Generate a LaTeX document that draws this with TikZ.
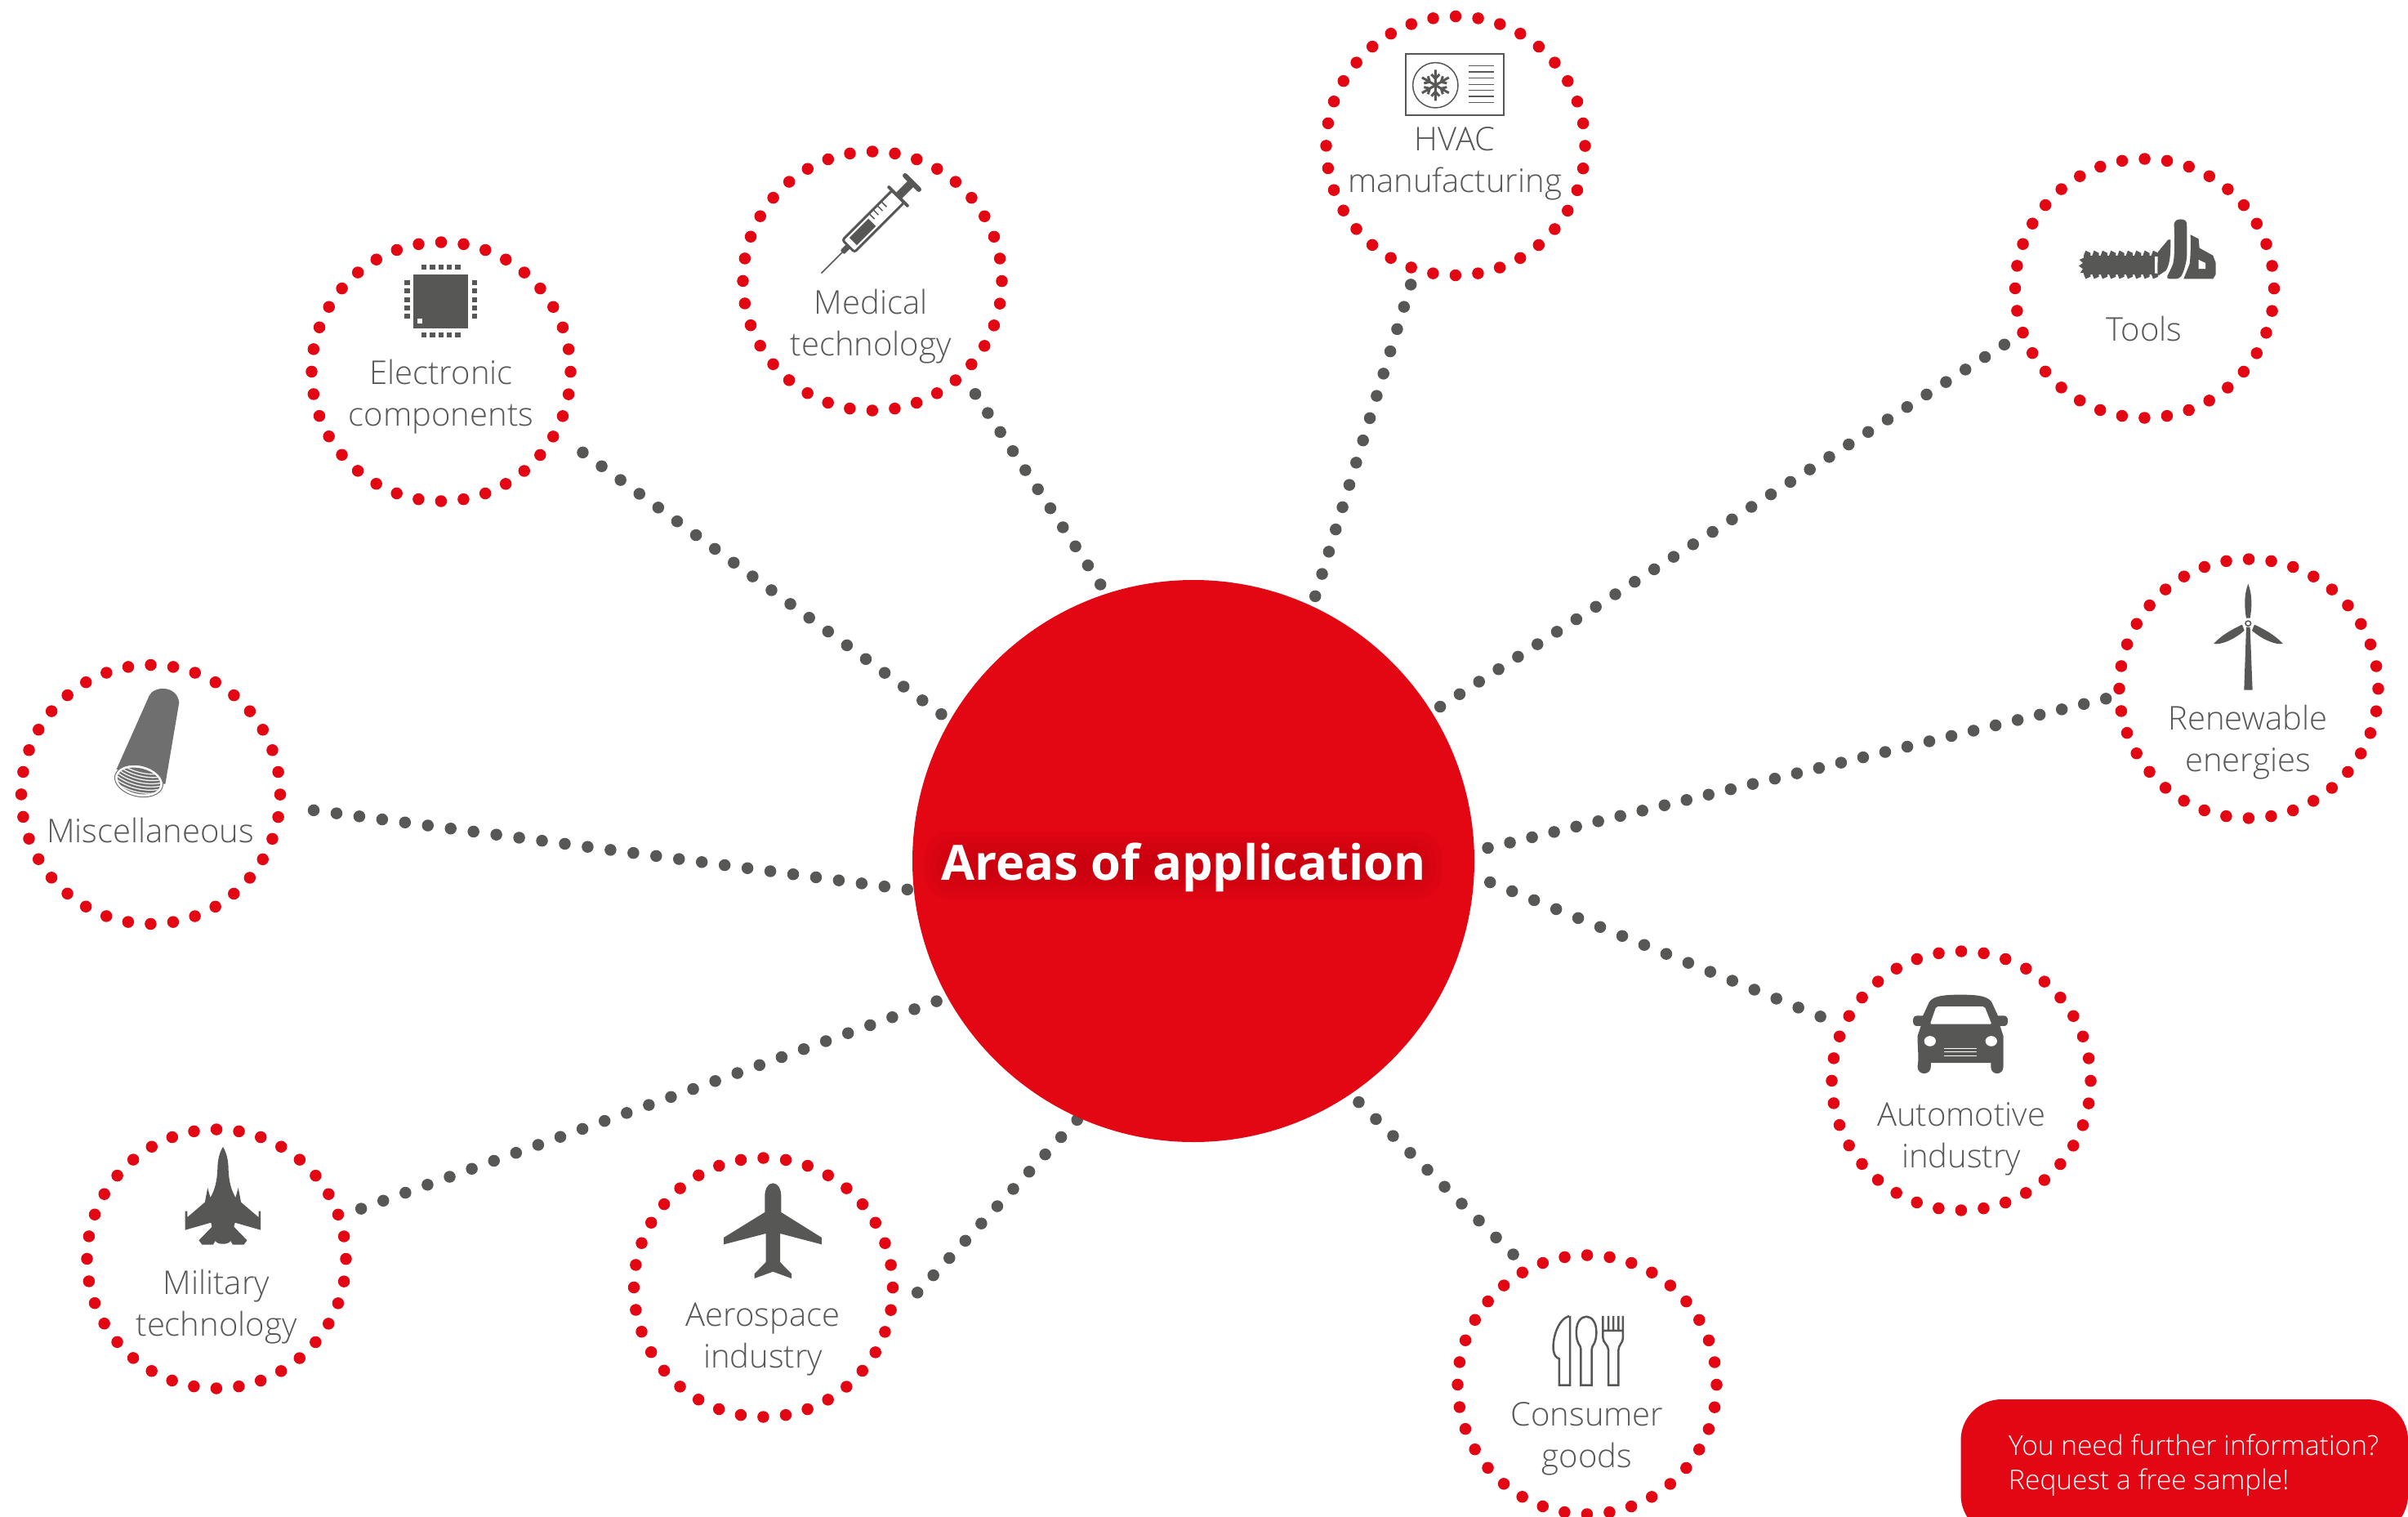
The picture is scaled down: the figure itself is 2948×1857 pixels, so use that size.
\documentclass[tikz,border=0pt]{standalone}
\usepackage{fontspec}
\setmainfont[UprightFont=* Light,BoldFont=* Bold]{Open Sans}
\usetikzlibrary{backgrounds}
\definecolor{brandred}{HTML}{E30613}
\definecolor{shadowred}{HTML}{A00010}
\definecolor{dotgrey}{HTML}{575756}
\definecolor{tubegrey}{HTML}{706F6F}
\tikzset{
  x=1pt,y=-1pt,
  ring/.style={circle,draw=brandred,line width=14.5pt,dash pattern=on 0pt off 27.663pt,line cap=round,minimum size=317pt,inner sep=0pt,outer sep=0pt},
  hubnode/.style={circle,fill=brandred,minimum size=688pt,inner sep=0pt,outer sep=0pt},
  conn/.style={draw=dotgrey,line width=14.5pt,dash pattern=on 0pt off #1pt,line cap=round},
  lbl/.style={text=dotgrey,font=\fontsize{40}{51}\selectfont,align=center,inner sep=0pt},
  ic/.style={fill=dotgrey,draw=none},
  icl/.style={draw=dotgrey,fill=none,line width=2.5pt},
  zA/.style={shift={(1600,0)},x=0.3333pt,y=-0.3333pt},
  zB/.style={shift={(350,160)},x=0.574pt,y=-0.3333pt},
  zC/.style={shift={(2420,170)},x=0.3333pt,y=-0.51pt},
  zD/.style={shift={(0,800)},x=0.3333pt,y=-0.3333pt},
  zE/.style={shift={(80,1360)},x=0.67pt,y=-0.3333pt},
  zF/.style={shift={(1760,1150)},x=0.51pt,y=-0.451pt},
}
\begin{document}
\begin{tikzpicture}
\useasboundingbox (0,0) rectangle (2948,1857);
\node[hubnode] (hub) at (1461,1054) {};
\foreach \g in {0,7,14,21,28}
  \fill[shadowred,opacity=0.07,rounded corners=30pt] (1132+\g,1018+\g) rectangle (1765-\g,1100-\g);
\node[text=white,font=\bfseries\fontsize{59.6}{66}\selectfont,inner sep=0pt] (hubtext) at (1449,1062) {Areas of application};
\node[ring] (elec) at (540,455) {};
\node[ring] (med) at (1068,344) {};
\node[ring] (hvac) at (1782,178.5) {};
\node[ring] (tools) at (2625.5,353) {};
\node[ring] (renew) at (2753,843) {};
\node[ring] (misc) at (184.5,972.5) {};
\node[ring] (auto) at (2401,1323) {};
\node[ring] (cons) at (1943,1695) {};
\node[ring] (aero) at (934.5,1576) {};
\node[ring] (mil) at (265,1541) {};
\begin{pgfonlayer}{background}
\draw[conn=28.6,shorten <=41.5pt] (elec.-28.4) -- (hub.150.4);
\draw[conn=27.9,shorten <=29pt] (med.-46.5) -- (hub.108.1);
\draw[conn=28.5,shorten <=20pt] (hvac.-108.8) -- (hub.65.1);
\draw[conn=28.3,shorten <=27pt] (tools.200.6) -- (hub.32.6);
\draw[conn=27.8,shorten <=17pt] (renew.183.1) -- (hub.2.9);
\draw[conn=29.1,shorten <=31pt] (auto.155.4) -- (hub.-3.9);
\draw[conn=29.5,shorten <=26pt] (cons.117.9) -- (hub.-56.9);
\draw[conn=28.8,shorten <=54.6pt] (aero.-17.6) -- (hub.246.6);
\draw[conn=28.8,shorten <=29pt] (mil.19.6) -- (hub.209.3);
\draw[conn=28.2,shorten <=42pt] (misc.-5) -- (hub.186.5);
\end{pgfonlayer}
% labels
\node[lbl] (t1) at (540,486) {Electronic\\components};
\node[lbl] (t2) at (1066,400) {Medical\\technology};
\node[lbl] (t3) at (1781,200) {HVAC\\manufacturing};
\node[lbl] (t4) at (2625,402) {Tools};
\node[lbl] (t5) at (2752,909) {Renewable\\energies};
\node[lbl] (t6) at (184,1016) {Miscellaneous};
\node[lbl] (t7) at (2401,1394) {Automotive\\industry};
\node[lbl] (t8) at (1943,1761) {Consumer\\goods};
\node[lbl] (t9) at (934,1639) {Aerospace\\industry};
\node[lbl] (t10) at (265,1600) {Military\\technology};
% call-out
\fill[brandred,rounded corners=50pt] (2948,1713) -- (2400.5,1713) -- (2400.5,1880) -- (2948,1880) -- cycle;
\node[text=white,font=\fontsize{33.5}{42}\selectfont,align=left,inner sep=0pt,anchor=north west] (cta) at (2459,1756) {You need further information?\\Request a free sample!};
% HVAC icon
\begin{scope}[zA]
\draw[icl,line width=1.8pt] (363,199) rectangle (723,423);
\draw[icl,line width=1.5pt] (472,313) circle (83);
\foreach \y in {241,264,287,310,332,354,377} \draw[icl,line width=1.5pt] (593,\y) -- (686,\y);
\foreach \a in {0,60,...,300}{
  \begin{scope}[shift={(472,313)},rotate=\a+30]
  \draw[icl,line width=3pt] (0,0) -- (57,0) (24,0) -- (40,-15) (24,0) -- (40,15);
  \end{scope}}
\end{scope}
% chip icon
\begin{scope}[zB]
\fill[ic] (272,527) rectangle (389,727);
\fill[white] (280,690) rectangle (291,708);
\foreach \x in {289,307,325,343,361}{\fill[ic] (\x,492) rectangle (\x+11,510);\fill[ic] (\x,741) rectangle (\x+11,759);}
\foreach \y in {549,580,611,642,672}{\fill[ic] (253,\y) rectangle (264,\y+18);\fill[ic] (397,\y) rectangle (408,\y+18);}
\end{scope}
% syringe icon
\begin{scope}[shift={(1005.5,334.5)},rotate=45]
\draw[dotgrey,line width=1.5pt] (0,0) -- (36,0);
\fill[ic,rounded corners=2pt] (36,-3.5) rectangle (47,3.5);
\draw[icl,line width=3pt,rounded corners=3pt] (47,-10.5) rectangle (133,10.5);
\fill[ic] (55,-6.5) rectangle (88,6.5);
\foreach \x in {93,100,107,114} \draw[dotgrey,line width=1.5pt] (\x,-9) -- (\x,-1);
\draw[dotgrey,line width=4pt,line cap=round] (133,-16) -- (133,16);
\fill[ic] (133,-5) rectangle (156,5);
\draw[dotgrey,line width=6pt,line cap=round] (157,-12) -- (157,12);
\end{scope}
% chainsaw icon
\begin{scope}[zC]
\fill[ic] (392,280) rectangle (655,325);
\foreach \t in {392,423,...,640}{
  \fill[ic] (\t,282) -- (\t+8,268) -- (\t+26,274) -- (\t+26,282) -- cycle;
  \fill[ic] (\t,323) -- (\t+8,336) -- (\t+26,331) -- (\t+26,323) -- cycle;}
\fill[ic] (392,272) -- (395,285) -- (377,290) -- (390,298) -- (375,305) -- (390,312) -- (380,322) -- (395,322) -- (400,332) -- (410,320) -- cycle;
\fill[ic] (665,272) -- (703,242) -- (712,242) .. controls (712,280) and (710,300) .. (695,316) -- (668,328) -- (664,320) -- cycle;
\fill[ic,rounded corners=4pt] (725,210) .. controls (728,190) and (770,190) .. (772,210) -- (772,270) .. controls (772,295) and (760,320) .. (745,336) -- (695,336) -- (722,300) .. controls (727,270) and (727,240) .. (725,210) -- cycle;
\fill[ic] (785,230) -- (815,240) -- (818,262) -- (868,280) -- (878,298) -- (878,325) -- (868,336) -- (760,336) -- (782,300) .. controls (786,280) and (786,250) .. (785,230) -- cycle;
\fill[white] (815,290) -- (840,298) -- (840,312) -- (815,312) -- cycle;
\end{scope}
% wind turbine icon
\begin{scope}[zC]
\fill[ic] (997,1068) .. controls (980,1095) and (984,1130) .. (990,1150) -- (1004,1150) .. controls (1010,1130) and (1014,1095) .. (997,1068) -- cycle;
\fill[ic] (870,1212) .. controls (900,1190) and (945,1175) .. (975,1166) -- (983,1180) .. controls (950,1200) and (900,1215) .. (870,1212) -- cycle;
\fill[ic] (1125,1212) .. controls (1095,1190) and (1050,1175) .. (1020,1166) -- (1011,1180) .. controls (1045,1200) and (1095,1215) .. (1125,1212) -- cycle;
\fill[ic] (990,1172) -- (1004,1172) -- (1013,1323) -- (982,1323) -- cycle;
\draw[dotgrey,line width=1.5pt,fill=white] (997,1163) ellipse (10 and 6);
\end{scope}
% tube icon
\begin{scope}[zD]
\fill[tubegrey] (428,425) -- (548,155) .. controls (565,118) and (650,115) .. (658,180) -- (607,480) -- cycle;
\begin{scope}[shift={(510,468)},rotate=-13]
\draw[tubegrey,fill=white,line width=1pt] (0,0) ellipse (90 and 57);
\begin{scope}
\clip (0,0) ellipse (80 and 47);
\fill[tubegrey] (-90,-60) rectangle (90,60);
\foreach \d in {-30,-18,...,54} \draw[white,line width=1.2pt] (-90,\d-22) .. controls (-40,\d+6) and (40,\d+6) .. (90,\d-22);
\end{scope}
\end{scope}
\end{scope}
% jet icon
\begin{scope}[zE]
\fill[ic] (288,132) .. controls (294,150) and (298,180) .. (298,215) .. controls (299,260) and (303,290) .. (311,318) -- (316,282) -- (321,335) -- (353,390) -- (353,368) -- (357,368) -- (357,437) -- (310,410) -- (308,425) -- (332,475) -- (326,491) -- (306,491) -- (302,477) .. controls (298,492) and (278,492) .. (274,477) -- (270,491) -- (250,491) -- (244,475) -- (268,425) -- (266,410) -- (219,437) -- (219,368) -- (223,368) -- (223,390) -- (255,335) -- (260,282) -- (265,318) .. controls (273,290) and (277,260) .. (278,215) .. controls (278,180) and (282,150) .. (288,132) -- cycle;
\end{scope}
% plane icon
\begin{scope}[zE]
\fill[ic] (1293,265) .. controls (1303,265) and (1308,290) .. (1308,310) -- (1308,372) -- (1382,465) -- (1382,490) -- (1306,450) -- (1306,555) -- (1327,598) -- (1327,615) -- (1293,590) -- (1259,615) -- (1259,598) -- (1280,555) -- (1280,450) -- (1203,490) -- (1203,465) -- (1278,372) -- (1278,310) .. controls (1278,290) and (1283,265) .. (1293,265) -- cycle;
\end{scope}
% car icon
\begin{scope}[zF]
\fill[ic] (1255,150) .. controls (1290,150) and (1320,152) .. (1330,170) -- (1345,207) -- (1360,207) .. controls (1372,207) and (1372,235) .. (1360,235) -- (1350,235) -- (1358,262) -- (1358,345) .. controls (1358,370) and (1328,370) .. (1328,345) -- (1328,335) -- (1184,335) -- (1184,345) .. controls (1184,370) and (1152,370) .. (1152,345) .. controls (1156,320) and (1152,300) .. (1152,262) -- (1160,235) -- (1150,235) .. controls (1138,235) and (1138,207) .. (1150,207) -- (1165,207) -- (1180,170) .. controls (1190,152) and (1220,150) .. (1255,150) -- cycle;
\fill[white,rounded corners=2pt] (1197,182) -- (1313,182) -- (1330,230) -- (1182,230) -- cycle;
\fill[white] (1182,276) circle (14) (1329,276) circle (14);
\foreach \y in {295,305,315} \draw[white,line width=1pt] (1215,\y) -- (1295,\y);
\end{scope}
% cutlery icon
\begin{scope}[zF]
\draw[icl] (316,1022) .. controls (290,1030) and (275,1080) .. (278,1115) .. controls (280,1130) and (285,1135) .. (292,1138) -- (292,1210) -- (318,1210) -- (318,1022);
\draw[icl] (344,1210) -- (344,1112) .. controls (344,1100) and (333,1100) .. (333,1065) .. controls (333,1010) and (381,1010) .. (381,1065) .. controls (381,1100) and (370,1100) .. (370,1112) -- (370,1210) -- cycle;
\draw[icl] (397,1022) -- (397,1082) .. controls (397,1095) and (410,1100) .. (410,1115) -- (410,1210) -- (434,1210) -- (434,1115) .. controls (434,1100) and (445,1095) .. (445,1082) -- (445,1022) (410,1022) -- (410,1062) (422,1022) -- (422,1062) (434,1022) -- (434,1062) (397,1062) -- (445,1062);
\end{scope}
\end{tikzpicture}
\end{document}
